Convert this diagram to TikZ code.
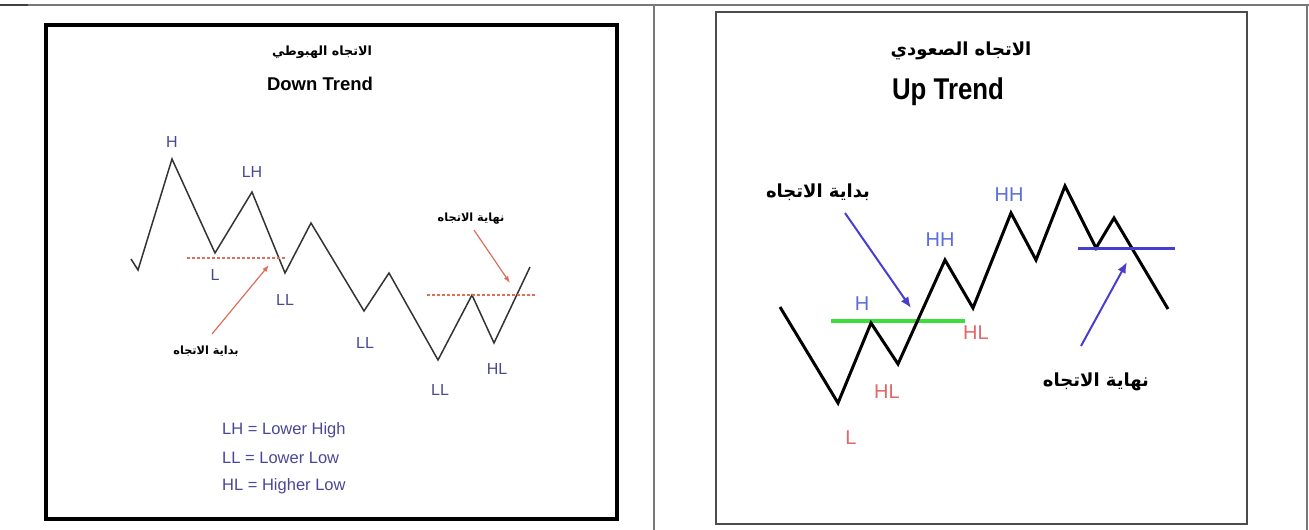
\documentclass[tikz,border=0pt]{standalone}
\usepackage{fontspec}
\setmainfont{Liberation Sans}
\newfontfamily\arabicfont[Script=Arabic]{DejaVu Sans}
\newfontfamily\narrowfont[FakeStretch=0.86]{Liberation Sans}
\usepackage{xcolor}
\usepackage{tikz}
\usetikzlibrary{arrows.meta, positioning, calc}
\TeXXeTstate=1
\definecolor{navylabel}{RGB}{72,72,150}
\definecolor{skylabel}{RGB}{92,110,218}
\definecolor{pinklabel}{RGB}{226,104,104}
\definecolor{redline}{RGB}{222,110,90}
\definecolor{greenline}{RGB}{60,222,60}
\definecolor{blueline}{RGB}{72,62,205}
\definecolor{frame}{RGB}{120,120,120}

\begin{document}
\begin{tikzpicture}[x=1pt, y=-1pt, >=Latex]
        % Define styles
        \tikzstyle{downlabel} = [text=navylabel, font=\fontsize{16}{16}\selectfont, inner sep=0pt]
        \tikzstyle{uplabel} = [text=skylabel, font=\fontsize{20}{20}\selectfont, inner sep=0pt]
        \tikzstyle{lowlabel} = [text=pinklabel, font=\fontsize{20}{20}\selectfont, inner sep=0pt]
        \tikzstyle{legend} = [text=navylabel, font=\fontsize{16.5}{16.5}\selectfont, inner sep=0pt, anchor=west]
        \tikzstyle{smallarabic} = [font=\arabicfont\bfseries\fontsize{11.3}{11.3}\selectfont, inner sep=0pt]
        \tikzstyle{bigarabic} = [font=\arabicfont\bfseries\fontsize{18}{18}\selectfont, inner sep=0pt]
        \tikzstyle{thinzig} = [draw=black!80, line width=1.5pt, line join=miter]
        \tikzstyle{thickzig} = [draw=black, line width=3pt, line join=miter]
        \tikzstyle{redarrow} = [->, >={Latex[length=7pt, width=5pt]}, draw=redline, line width=1.2pt]
        \tikzstyle{bluearrow} = [->, >={Latex[length=11pt, width=9pt]}, draw=blueline, line width=2pt]
        \tikzstyle{breakline} = [draw=redline, line width=2pt, densely dashed]

        \useasboundingbox (0,0) rectangle (1309,530);

        % Frames
        \draw [frame, line width=1.5pt] (0,5) -- (1309,5);
        \draw [black!75, line width=2pt] (0,5) -- (28,5);
        \draw [frame, line width=1.5pt] (654,5) -- (654,530);
        \draw [frame, line width=1.5pt] (1307,5) -- (1307,530);
        \draw [black, line width=4pt] (46,25) rectangle (617,519);
        \draw [black!70, line width=2pt] (716,12) rectangle (1247,524);

        % Down trend panel
        \node (downar) [smallarabic, font=\arabicfont\bfseries\fontsize{12.7}{12.7}\selectfont] at (322,52) {\beginR الاتجاه الهبوطي\endR};
        \node (downtitle) [font=\bfseries\fontsize{18.5}{18.5}\selectfont, inner sep=0pt] at (320,84) {Down Trend};

        \coordinate (d0) at (131,259);
        \coordinate (d1) at (138,270);
        \coordinate (d2) at (172,159);
        \coordinate (d3) at (215,253);
        \coordinate (d4) at (252,192);
        \coordinate (d5) at (285,273);
        \coordinate (d6) at (311,223);
        \coordinate (d7) at (364,311);
        \coordinate (d8) at (389,273);
        \coordinate (d9) at (438,360);
        \coordinate (d10) at (472,295);
        \coordinate (d11) at (494,343);
        \coordinate (d12) at (530,267);
        \draw [thinzig] (d0) -- (d1) -- (d2) -- (d3) -- (d4) -- (d5) -- (d6) -- (d7) -- (d8) -- (d9) -- (d10) -- (d11) -- (d12);

        \coordinate (lowA) at (187,258);
        \coordinate (lowB) at (286,258);
        \coordinate (highA) at (427,295);
        \coordinate (highB) at (535,295);
        \draw [breakline] (lowA) -- (lowB);
        \draw [breakline] (highA) -- (highB);

        \node (dH) [downlabel] at (172,142) {H};
        \node (dLH) [downlabel] at (252,172) {LH};
        \node (dL) [downlabel] at (215,275) {L};
        \node (dLL1) [downlabel] at (285,300) {LL};
        \node (dLL2) [downlabel] at (365,343) {LL};
        \node (dLL3) [downlabel] at (440,390) {LL};
        \node (dHL) [downlabel] at (497,369) {HL};

        \node (dstart) [smallarabic] at (206,351) {\beginR بداية الاتجاه\endR};
        \node (dend) [smallarabic] at (471,219) {\beginR نهاية الاتجاه\endR};
        \coordinate (dstartTail) at (212,334);
        \coordinate (dstartTip) at (269,265);
        \coordinate (dendTail) at (474,230);
        \coordinate (dendTip) at (510,283);
        \draw [redarrow] (dstartTail) -- (dstartTip);
        \draw [redarrow] (dendTail) -- (dendTip);

        \node (leg1) [legend] at (222,430) {LH = Lower High};
        \node (leg2) [legend] at (222,458) {LL = Lower Low};
        \node (leg3) [legend] at (222,486) {HL = Higher Low};

        % Up trend panel
        \node (upar) [bigarabic] at (961,51) {\beginR الاتجاه الصعودي\endR};
        \node (uptitle) [font=\narrowfont\bfseries\fontsize{30}{30}\selectfont, inner sep=0pt] at (948,92) {Up Trend};

        \coordinate (u0) at (780,307);
        \coordinate (u1) at (838,403);
        \coordinate (u2) at (871,323);
        \coordinate (u3) at (898,364);
        \coordinate (u4) at (945,260);
        \coordinate (u5) at (973,308);
        \coordinate (u6) at (1011,213);
        \coordinate (u7) at (1036,260);
        \coordinate (u8) at (1065,186);
        \coordinate (u9) at (1096,248);
        \coordinate (u10) at (1114,218);
        \coordinate (u11) at (1168,309);

        \coordinate (greenA) at (831,321);
        \coordinate (greenB) at (965,321);
        \coordinate (blueA) at (1078,248);
        \coordinate (blueB) at (1175,248);
        \draw [greenline, line width=4pt] (greenA) -- (greenB);
        \draw [thickzig] (u0) -- (u1) -- (u2) -- (u3) -- (u4) -- (u5) -- (u6) -- (u7) -- (u8) -- (u9) -- (u10) -- (u11);
        \draw [blueline, line width=3pt] (blueA) -- (blueB);

        \node (uH) [uplabel] at (862,304) {H};
        \node (uHH1) [uplabel] at (940,240) {HH};
        \node (uHH2) [uplabel] at (1009,195) {HH};
        \node (uHL1) [lowlabel] at (976,333) {HL};
        \node (uHL2) [lowlabel] at (887,392) {HL};
        \node (uL) [lowlabel] at (851,438) {L};

        \node (ustart) [bigarabic] at (818,192) {\beginR بداية الاتجاه\endR};
        \node (uend) [bigarabic] at (1096,382) {\beginR نهاية الاتجاه\endR};
        \coordinate (ustartTail) at (845,213);
        \coordinate (ustartTip) at (911,308);
        \coordinate (uendTail) at (1081,346);
        \coordinate (uendTip) at (1127,262);
        \draw [bluearrow] (ustartTail) -- (ustartTip);
        \draw [bluearrow] (uendTail) -- (uendTip);
    \end{tikzpicture}
\end{document}
